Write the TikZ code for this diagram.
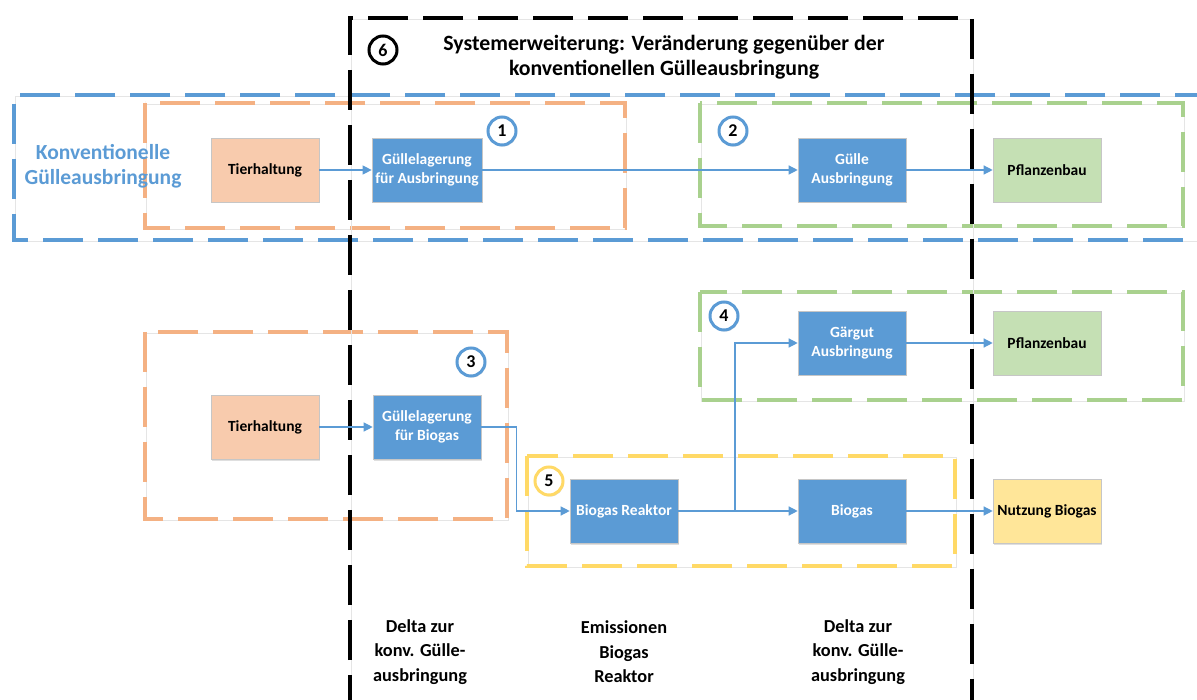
\documentclass[tikz,border=0pt]{standalone}
\usepackage{fontspec}
\setmainfont{Carlito}
\usetikzlibrary{arrows.meta,shadows}
\definecolor{cblue}{HTML}{5B9BD5}
\definecolor{orfill}{HTML}{F8CBAD}
\definecolor{orline}{HTML}{F4B183}
\definecolor{grfill}{HTML}{C5E0B4}
\definecolor{grline}{HTML}{A9D18E}
\definecolor{yefill}{HTML}{FFE699}
\definecolor{yeline}{HTML}{FFD966}
\begin{document}
\begin{tikzpicture}[x=1pt,y=-1pt,
  proc/.style={rectangle, minimum width=108pt, minimum height=64pt, draw=gray!45, line width=0.6pt,
    font=\bfseries\fontsize{15.5}{18.5}\selectfont, align=center,
    drop shadow={opacity=0.25, shadow xshift=1pt, shadow yshift=-1.5pt}},
  bluebox/.style={proc, fill=cblue, text=white},
  orbox/.style={proc, fill=orfill},
  grbox/.style={proc, fill=grfill},
  yebox/.style={proc, fill=yefill},
  num/.style={circle, draw, fill=white, line width=3pt, minimum size=28pt, inner sep=0pt,
    font=\bfseries\fontsize{18}{18}\selectfont,
    drop shadow={opacity=0.3, shadow xshift=1pt, shadow yshift=-1.5pt}},
  frame/.style={line width=4pt, dash pattern=on 40pt off 15pt,
    preaction={draw=black!10, solid, transform canvas={shift={(1.2pt,-1.5pt)}}}},
  conn/.style={draw=cblue, line width=1.2pt, -{Triangle[length=9pt,width=9pt]}},
  lbl/.style={font=\bfseries\fontsize{18.3}{24.5}\selectfont, align=center}
]
\path[use as bounding box, clip] (0,0) rectangle (1197,700);

% coloured frames
\draw[frame, draw=cblue] (1215,95) -- (14,95) -- (14,240) -- (1215,240);
\draw[frame, draw=orline] (145,103) rectangle (625,228);
\draw[frame, draw=grline] (700,103) rectangle (1183,226);
\draw[frame, draw=orline] (145,332) rectangle (507,519);
\draw[frame, draw=grline] (700,292) rectangle (1183,400);
\draw[frame, draw=yeline] (527,456) rectangle (955,566);

% black system frame
\draw[frame, draw=black] (350,715) -- (350,18) -- (972,18) -- (972,715);

% labels
\node[lbl, text=cblue, font=\bfseries\fontsize{21.5}{25}\selectfont] (konv) at (103,166) {Konventionelle\\Gülleausbringung};
\node[lbl, font=\bfseries\fontsize{21.8}{25}\selectfont] (title) at (664,57) {Systemerweiterung: Veränderung gegenüber der\\konventionellen Gülleausbringung};
\node[lbl] (d1) at (420,652) {Delta zur\\konv. Gülle-\\ausbringung};
\node[lbl] (em) at (624,652) {Emissionen\\Biogas\\Reaktor};
\node[lbl] (d2) at (858,652) {Delta zur\\konv. Gülle-\\ausbringung};

% process boxes
\node[orbox] (t1) at (265,170) {Tierhaltung};
\node[bluebox] (g1) at (427,170) {Güllelagerung\\für Ausbringung};
\node[bluebox] (ga) at (852,170) {Gülle\\Ausbringung};
\node[grbox] (p1) at (1047,170) {Pflanzenbau};
\node[bluebox] (gg) at (852,343) {Gärgut\\Ausbringung};
\node[grbox] (p2) at (1047,343) {Pflanzenbau};
\node[orbox] (t2) at (265,427) {Tierhaltung};
\node[bluebox] (g2) at (427,427) {Güllelagerung\\für Biogas};
\node[bluebox] (br) at (624,511) {Biogas Reaktor};
\node[bluebox] (bg) at (852,511) {Biogas};
\node[yebox] (nb) at (1047,511) {Nutzung Biogas};

% connectors
\draw[conn] (t1) -- (g1);
\draw[conn] (g1) -- (ga);
\draw[conn] (ga) -- (p1);
\draw[conn] (gg) -- (p2);
\draw[conn] (t2) -- (g2);
\draw[conn] (g2.east) -- ++(35,0) |- (br.west);
\draw[conn] (br) -- (bg);
\coordinate (split) at (735,511);
\draw[conn] (split) |- (gg.west);
\draw[conn] (bg) -- (nb);

% numbered circles
\node[num, draw=cblue] (n1) at (502,131) {1};
\node[num, draw=cblue] (n2) at (733,131) {2};
\node[num, draw=cblue] (n3) at (471,362) {3};
\node[num, draw=cblue] (n4) at (724,316) {4};
\node[num, draw=yeline] (n5) at (549,481) {5};
\node[num, draw=black] (n6) at (383,50) {6};
\end{tikzpicture}
\end{document}
